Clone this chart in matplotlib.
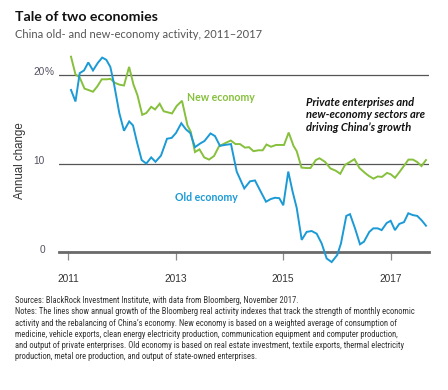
import matplotlib
matplotlib.use("Agg")
import matplotlib.pyplot as plt
import matplotlib.transforms as mtransforms
from matplotlib import font_manager as fm

# ---------------- data (decimal years, annual % change) ----------------
old_years = [2011.056, 2011.139, 2011.218, 2011.298, 2011.377, 2011.465, 2011.554, 2011.636,
             2011.712, 2011.787, 2011.855, 2011.954, 2012.041, 2012.138, 2012.209, 2012.283,
             2012.370, 2012.456, 2012.547, 2012.627, 2012.729, 2012.841, 2012.928, 2013.008,
             2013.107, 2013.194, 2013.274, 2013.361, 2013.454, 2013.538, 2013.650, 2013.733,
             2013.826, 2013.914, 2014.031, 2014.137, 2014.278, 2014.384, 2014.477, 2014.570,
             2014.682, 2014.769, 2014.849, 2014.929, 2015.003, 2015.096, 2015.178, 2015.253,
             2015.346, 2015.438, 2015.531, 2015.624, 2015.717, 2015.810, 2015.903, 2016.007,
             2016.076, 2016.175, 2016.244, 2016.337, 2016.430, 2016.504, 2016.603, 2016.677,
             2016.759, 2016.833, 2016.926, 2017.000, 2017.080, 2017.160, 2017.248, 2017.328,
             2017.409, 2017.495, 2017.577, 2017.657]
old_vals = [18.3, 17.0, 20.2, 20.5, 21.4, 20.5, 21.35, 21.95,
            21.7, 20.9, 19.0, 15.7, 13.7, 14.75, 14.3, 12.4,
            10.4, 10.0, 10.7, 10.2, 10.9, 12.8, 12.9, 13.45,
            14.55, 13.85, 13.45, 11.85, 12.25, 12.55, 13.4, 13.1,
            12.0, 12.1, 12.2, 9.1, 7.2, 8.0, 8.1, 7.0,
            5.7, 6.0, 6.15, 6.1, 5.3, 9.1, 6.8, 5.0,
            1.4, 2.3, 2.4, 2.1, 1.0, -0.7, -1.1, -0.3,
            1.0, 4.1, 4.3, 2.7, 0.9, 1.2, 2.3, 2.7,
            2.7, 2.5, 3.3, 3.55, 2.5, 3.2, 3.4, 4.4,
            4.2, 4.1, 3.6, 3.0]

new_years = [2011.056, 2011.139, 2011.218, 2011.307, 2011.377, 2011.465, 2011.545, 2011.627,
             2011.720, 2011.790, 2011.874, 2011.954, 2012.041, 2012.136, 2012.218, 2012.292,
             2012.380, 2012.456, 2012.547, 2012.618, 2012.705, 2012.779, 2012.934, 2013.021,
             2013.120, 2013.222, 2013.282, 2013.361, 2013.445, 2013.533, 2013.622, 2013.715,
             2013.808, 2013.920, 2014.027, 2014.115, 2014.198, 2014.291, 2014.366, 2014.449,
             2014.542, 2014.620, 2014.691, 2014.775, 2014.868, 2014.942, 2015.017, 2015.104,
             2015.193, 2015.253, 2015.342, 2015.429, 2015.509, 2015.608, 2015.676, 2015.779,
             2015.881, 2015.978, 2016.063, 2016.151, 2016.234, 2016.327, 2016.420, 2016.522,
             2016.597, 2016.681, 2016.759, 2016.839, 2016.932, 2017.000, 2017.080, 2017.164,
             2017.248, 2017.331, 2017.415, 2017.495, 2017.573, 2017.657]
new_vals = [22.05, 20.05, 19.7, 18.45, 18.3, 18.1, 18.7, 19.5,
            19.5, 19.55, 19.1, 18.9, 18.8, 20.9, 18.9, 17.7,
            15.5, 15.7, 16.4, 16.1, 16.75, 15.9, 15.65, 16.5,
            17.08, 14.3, 13.6, 11.3, 11.6, 10.7, 10.45, 10.85,
            11.95, 12.3, 12.6, 12.2, 12.2, 11.8, 11.85, 11.4,
            11.5, 11.5, 12.15, 11.9, 12.1, 12.1, 12.1, 13.5,
            12.0, 11.4, 9.55, 9.5, 9.5, 10.4, 10.6, 10.2,
            9.45, 9.2, 8.85, 9.85, 10.15, 10.5, 9.5, 8.95,
            8.6, 8.3, 8.55, 8.5, 8.95, 8.8, 8.4, 9.05,
            9.75, 10.45, 10.45, 10.17, 9.72, 10.4]

x_ticks = [2011, 2013, 2015, 2017]
x_tick_labels = ["2011", "2013", "2015", "2017"]
y_ticks = [0, 10, 20]
y_tick_labels = ["0", "10", "20"]

notes = [
    "Sources: BlackRock Investment Institute, with data from Bloomberg, November 2017.",
    "Notes: The lines show annual growth of the Bloomberg real activity indexes that track the strength of monthly economic",
    "activity and the rebalancing of China\u2019s economy. New economy is based on a weighted average of consumption of",
    "medicine, vehicle exports, clean energy electricity production, communication equipment and computer production,",
    "and output of private enterprises. Old economy is based on real estate investment, textile exports, thermal electricity",
    "production, metal ore production, and output of state-owned enterprises.",
]

# ---------------- styling ----------------
BLUE = "#1b9ad6"
GREEN = "#86c03c"
GRID = "#555555"
TXT = "#555060"

W, H = 448, 390
fig = plt.figure(figsize=(W / 100, H / 100), dpi=100)
ax = fig.add_axes([58.7 / W, 1 - 252.3 / H, (429 - 58.7) / W, (252.3 - 52.7) / H])

ax.plot(new_years, new_vals, color=GREEN, lw=1.4, solid_joinstyle="miter", zorder=3, clip_on=False)
ax.plot(old_years, old_vals, color=BLUE, lw=1.4, solid_joinstyle="miter", zorder=3, clip_on=False)

ax.set_xlim(2010.827, 2017.713)
ax.set_ylim(0, 22.5)

for s in ["top", "right", "left"]:
    ax.spines[s].set_visible(False)
ax.spines["bottom"].set_color("#6a6a6a")
ax.spines["bottom"].set_linewidth(2.0)
ax.spines["bottom"].set_zorder(2.5)

ax.set_yticks(y_ticks)
ax.set_yticklabels([])
ax.tick_params(axis="y", length=0)
ax.yaxis.grid(True, color=GRID, lw=0.9)
ax.set_axisbelow(True)

ax.set_xticks(x_ticks)
ax.set_xticklabels(x_tick_labels, fontfamily="Liberation Sans", fontsize=7.3, color="#333333")
ax.tick_params(axis="x", length=6, width=0.9, color="#8a8a8a", pad=9.5)

# y tick labels drawn slightly above lines, % hangs to the right
ytrans = ax.get_yaxis_transform() + mtransforms.ScaledTranslation(0, 3.5 / 100, fig.dpi_scale_trans)
xnum = (45 - 58.7) / (429 - 58.7)
for v, lab in zip(y_ticks, y_tick_labels):
    ax.text(xnum, v, lab, transform=ytrans, ha="right", va="center_baseline",
            fontfamily="Liberation Sans", fontsize=7.3, color=TXT, clip_on=False)
ax.text(xnum, 20, "%", transform=ytrans, ha="left", va="center_baseline",
        fontfamily="Liberation Sans", fontsize=7.3, color=TXT, clip_on=False)

fig.text(20 / W, 1 - 160.5 / H, "Annual change", rotation=90, ha="center", va="center",
         fontfamily="Liberation Sans", fontsize=8.3, color="#333333")

# series labels
ax.text(2013.21, 17.5, "New economy", color=GREEN, fontfamily="Lato", fontweight="bold",
        fontsize=7.6, ha="left", va="center")
ax.text(2012.99, 6.2, "Old economy", color=BLUE, fontfamily="Lato", fontweight="bold",
        fontsize=7.6, ha="left", va="center")
fig.text(305.5 / W, 1 - 96.5 / H, "Private enterprises and\nnew-economy sectors are\ndriving China\u2019s growth",
         color="#111111", fontfamily="Lato", fontweight="bold", fontstyle="italic",
         fontsize=8.0, ha="left", va="top", linespacing=1.2)

# title / subtitle
fig.text(15 / W, 1 - 21 / H, "Tale of two economies", fontfamily="Lato", fontweight="bold",
         fontsize=10.2, color="#111111", ha="left", va="baseline")
fig.text(15 / W, 1 - 38.5 / H, "China old- and new-economy activity, 2011\u20132017",
         fontfamily="Lato", fontsize=8.0, color="#555555", ha="left", va="baseline")

# notes: prefer a condensed sans family if one is installed, otherwise Lato; fit widest line to ~400 px
def pick_condensed():
    prefs = ["liberation sans narrow", "roboto condensed", "dejavu sans condensed",
             "open sans condensed", "noto sans condensed", "arial narrow"]
    cands = []
    for f in fm.fontManager.ttflist:
        key = (f.name + " " + f.fname).lower()
        if ("narrow" in key or "condensed" in key) and f.style == "normal":
            w = f.weight if isinstance(f.weight, int) else {"normal": 400, "regular": 400}.get(str(f.weight), 700)
            if w != 400 or "bold" in key or "light" in key or "semi" in key or "extra" in key:
                continue
            rank = next((i for i, p in enumerate(prefs) if p in key.replace("-", " ")), len(prefs))
            cands.append((rank, f.fname))
    cands.sort()
    return fm.FontProperties(fname=cands[0][1]) if cands else fm.FontProperties(family="Lato")

note_fp = pick_condensed()
note_texts = []
for i, line in enumerate(notes):
    fp = note_fp.copy()
    fp.set_size(6.2)
    t = fig.text(15 / W, 1 - (303.3 + 11.1 * i) / H, line, fontproperties=fp,
                 color="#333333", ha="left", va="baseline")
    note_texts.append(t)
fig.canvas.draw()
r = fig.canvas.get_renderer()
wline = note_texts[1].get_window_extent(r).width
scale = 400.0 / wline
for t in note_texts:
    t.set_fontsize(6.2 * scale)

fig.savefig("out.png", dpi=100, facecolor="white")
